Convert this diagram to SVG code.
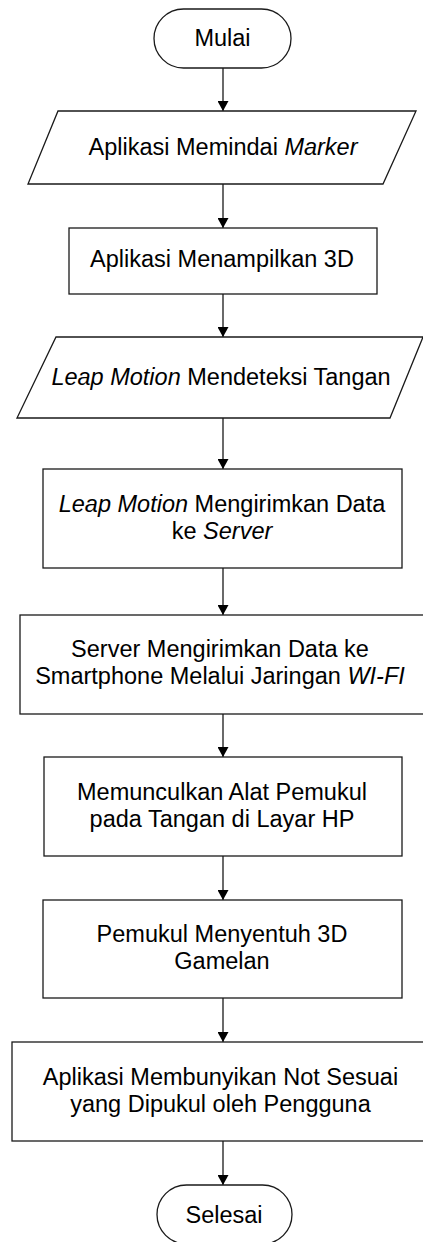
<svg xmlns="http://www.w3.org/2000/svg" width="423" height="1242" viewBox="0 0 423 1242">
  <style>
    .shape { fill: #ffffff; stroke: #1a1a1a; stroke-width: 1.3; }
    .label { font-family: "Liberation Sans", Arial, sans-serif; font-size: 23.5px; fill: #000000; text-anchor: middle; }
    .it { font-style: italic; }
    .flow { stroke: #1a1a1a; stroke-width: 1.3; fill: none; marker-end: url(#arrow); }
  </style>
  <defs>
    <!-- filled triangular arrowhead, tip placed on the target edge -->
    <marker id="arrow" markerUnits="userSpaceOnUse" markerWidth="10" markerHeight="11" refX="10" refY="5.5" orient="auto" viewBox="0 0 10 11">
      <path d="M0,0 L10,5.5 L0,11 Z" fill="#000000"/>
    </marker>
  </defs>
  <rect width="423" height="1242" fill="#ffffff"/>

  <!-- connectors -->
  <g id="connectors">
    <line class="flow" x1="223" y1="68" x2="223" y2="111"/>
    <line class="flow" x1="223" y1="184" x2="223" y2="228"/>
    <line class="flow" x1="223" y1="294" x2="223" y2="337"/>
    <line class="flow" x1="223" y1="418" x2="223" y2="469"/>
    <line class="flow" x1="223" y1="568" x2="223" y2="615"/>
    <line class="flow" x1="223" y1="714" x2="223" y2="757"/>
    <line class="flow" x1="223" y1="856" x2="223" y2="900"/>
    <line class="flow" x1="223" y1="998" x2="223" y2="1042"/>
    <line class="flow" x1="223" y1="1141" x2="223" y2="1185"/>
  </g>

  <g id="mulai">
    <rect class="shape" x="154" y="9" width="137" height="59" rx="29.5" ry="29.5"/>
    <text class="label" x="222.5" y="46">Mulai</text>
  </g>

  <g id="pindai-marker">
    <polygon class="shape" points="58,111 416,111 383,184 28,184"/>
    <text class="label" x="223" y="155">Aplikasi Memindai <tspan class="it">Marker</tspan></text>
  </g>

  <g id="tampil-3d">
    <rect class="shape" x="69" y="228" width="308" height="66"/>
    <text class="label" x="222" y="267">Aplikasi Menampilkan 3D</text>
  </g>

  <g id="deteksi-tangan">
    <polygon class="shape" points="56,337 423,337 390,418 17,418"/>
    <text class="label" x="221" y="385"><tspan class="it">Leap Motion</tspan> Mendeteksi Tangan</text>
  </g>

  <g id="kirim-server">
    <rect class="shape" x="43" y="469" width="359" height="99"/>
    <text class="label" x="222" y="512"><tspan class="it">Leap Motion</tspan> Mengirimkan Data</text>
    <text class="label" x="222" y="539">ke <tspan class="it">Server</tspan></text>
  </g>

  <g id="kirim-smartphone">
    <rect class="shape" x="20" y="615" width="406" height="99"/>
    <text class="label" x="220" y="657">Server Mengirimkan Data ke</text>
    <text class="label" x="220" y="684">Smartphone Melalui Jaringan <tspan class="it">WI-FI</tspan></text>
  </g>

  <g id="alat-pemukul">
    <rect class="shape" x="44" y="757" width="358" height="99"/>
    <text class="label" x="222" y="800">Memunculkan Alat Pemukul</text>
    <text class="label" x="222" y="827">pada Tangan di Layar HP</text>
  </g>

  <g id="sentuh-gamelan">
    <rect class="shape" x="43" y="900" width="359" height="98"/>
    <text class="label" x="222" y="942">Pemukul Menyentuh 3D</text>
    <text class="label" x="222" y="969">Gamelan</text>
  </g>

  <g id="bunyi-not">
    <rect class="shape" x="12" y="1042" width="414" height="99"/>
    <text class="label" x="220.5" y="1085">Aplikasi Membunyikan Not Sesuai</text>
    <text class="label" x="220.5" y="1112">yang Dipukul oleh Pengguna</text>
  </g>

  <g id="selesai">
    <rect class="shape" x="157" y="1185" width="135" height="59" rx="29.5" ry="29.5"/>
    <text class="label" x="224" y="1223">Selesai</text>
  </g>
</svg>
